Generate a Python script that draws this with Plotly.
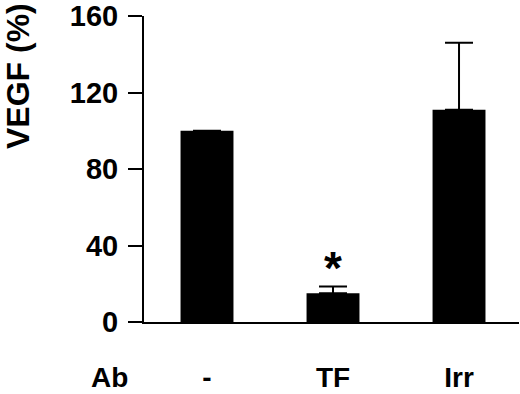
import plotly.graph_objects as go

categories = ["-", "TF", "Irr"]
positions = [0, 1, 2]
values = [100, 15, 111]
errors_plus = [0, 3.5, 35]
y_ticks = [0, 40, 80, 120, 160]

FONT = "Arial, Liberation Sans, Helvetica, sans-serif"

fig = go.Figure()
fig.add_trace(go.Bar(
    x=positions, y=values, width=0.42,
    marker=dict(color="black", line=dict(width=0)),
    error_y=dict(type="data", symmetric=False, array=errors_plus,
                 arrayminus=[0, 0, 0], color="black", thickness=2, width=14,
                 visible=True),
    showlegend=False,
))

fig.update_layout(
    width=520, height=394,
    margin=dict(l=144, r=1, t=16, b=72, autoexpand=False),
    paper_bgcolor="white", plot_bgcolor="white",
    font=dict(family=FONT, color="black"),
    xaxis=dict(
        range=[-0.5, 2.476], tickmode="array", tickvals=positions,
        ticktext=categories, showline=True, linecolor="black", linewidth=2,
        ticks="", showgrid=False, zeroline=False, automargin=False,
        tickfont=dict(family=FONT, size=28, weight="bold", color="black"),
        ticklabelstandoff=29,
    ),
    yaxis=dict(
        range=[0, 160], tickmode="array", tickvals=y_ticks,
        showline=True, linecolor="black", linewidth=2,
        ticks="outside", ticklen=14, tickwidth=2, tickcolor="black",
        showgrid=False, zeroline=False, automargin=False,
        tickfont=dict(family=FONT, size=29, weight="bold", color="black"),
        ticklabelstandoff=4,
    ),
    annotations=[
        dict(text="VEGF (%)", xref="paper", yref="paper", x=(18 - 144) / 375,
             y=(322 - 76) / 306, xanchor="center", yanchor="middle",
             textangle=-90, showarrow=False,
             font=dict(family=FONT, size=32, weight="bold", color="black")),
        dict(text="Ab", xref="paper", yref="paper", x=(109 - 144) / 375,
             y=-(377 - 322) / 306, xanchor="center", yanchor="middle",
             showarrow=False,
             font=dict(family=FONT, size=28, weight="bold", color="black")),
        dict(text="*", xref="x", yref="y", x=positions[1], y=values[1] + errors_plus[1],
             xanchor="center", yanchor="bottom", showarrow=False, yshift=-9,
             font=dict(family=FONT, size=46, weight="bold", color="black")),
    ],
)

fig.write_html(
    "out.html",
    config={"displayModeBar": False},
    post_script="document.body.style.margin='0';document.body.style.overflow='hidden';",
)
